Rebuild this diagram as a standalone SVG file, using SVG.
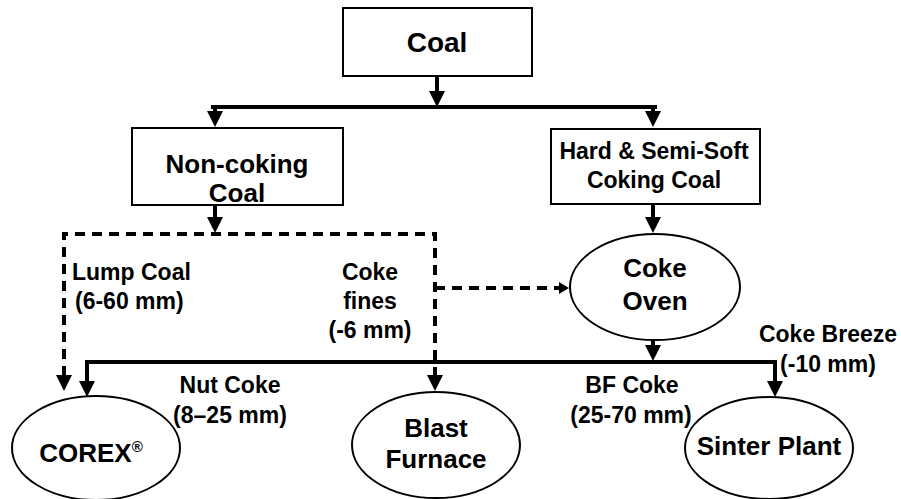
<svg xmlns="http://www.w3.org/2000/svg" width="901" height="499" viewBox="0 0 901 499">
<style>
.box{fill:#fff;stroke:#000;stroke-width:2}
.t{font-family:"Liberation Sans",Arial,sans-serif;font-weight:bold;fill:#000;text-anchor:middle}
.big{font-size:26px}
.lbl{font-size:23px}
.c{fill:none;stroke:#000;stroke-width:4}
.d{fill:none;stroke:#000;stroke-width:4;stroke-dasharray:10,7}
</style>
<defs>
<marker id="ah" viewBox="0 0 16 16" refX="1" refY="8" markerWidth="16" markerHeight="16" markerUnits="userSpaceOnUse" orient="auto-start-reverse">
<path d="M0,0 L16,8 L0,16 Z" fill="#000"/>
</marker>
<marker id="ahs" viewBox="0 0 10 12" refX="1" refY="6" markerWidth="10" markerHeight="12" markerUnits="userSpaceOnUse" orient="auto">
<path d="M0,0 L10,6 L0,12 Z" fill="#000"/>
</marker>
</defs>
<rect width="901" height="499" fill="#fff"/>
<g id="connectors">
<path class="c" d="M437,76 V92" marker-end="url(#ah)"/>
<path class="c" d="M213,107 H655" stroke-linecap="square"/>
<path class="c" d="M215,107 V112" marker-end="url(#ah)"/>
<path class="c" d="M653,107 V112" marker-end="url(#ah)"/>
<path class="c" d="M215,205 V218" marker-end="url(#ah)"/>
<path class="d" d="M64,376 V234 H435 V376" marker-start="url(#ah)" marker-end="url(#ah)"/>
<path class="d" d="M435,288 H560" marker-end="url(#ahs)"/>
<path class="c" d="M653,204 V218" marker-end="url(#ah)"/>
<path class="c" d="M653,340 V346" marker-end="url(#ah)"/>
<path class="c" d="M87,382 V362 H775 V382" marker-start="url(#ah)" marker-end="url(#ah)"/>
</g>
<g id="coal">
<rect class="box" x="343" y="8" width="189" height="68"/>
<text class="t" x="437" y="52" font-size="28">Coal</text>
</g>
<g id="noncoking">
<rect class="box" x="132" y="128" width="211" height="77"/>
<text class="t big" x="237" y="173">Non-coking</text>
<text class="t big" x="237" y="202">Coal</text>
</g>
<g id="coking">
<rect class="box" x="551" y="129" width="209" height="75"/>
<text class="t lbl" x="654" y="159">Hard &amp; Semi-Soft</text>
<text class="t lbl" x="654" y="188">Coking Coal</text>
</g>
<g id="cokeoven">
<ellipse class="box" cx="655" cy="287" rx="85" ry="53"/>
<text class="t big" x="655" y="277">Coke</text>
<text class="t big" x="655" y="310">Oven</text>
</g>
<g id="corex">
<ellipse class="box" cx="96" cy="448" rx="84" ry="52"/>
<text class="t big" x="91" y="462">COREX<tspan font-size="15" dy="-10">®</tspan></text>
</g>
<g id="blastfurnace">
<ellipse class="box" cx="436" cy="445" rx="84" ry="53"/>
<text class="t big" x="436" y="437">Blast</text>
<text class="t big" x="436" y="468">Furnace</text>
</g>
<g id="sinter">
<ellipse class="box" cx="769" cy="448" rx="84" ry="51"/>
<text class="t big" x="769" y="455">Sinter Plant</text>
</g>
<g id="labels">
<text class="t lbl" x="72" y="280" text-anchor="start" style="text-anchor:start">Lump Coal</text>
<text class="t lbl" x="75" y="309" style="text-anchor:start">(6-60 mm)</text>
<text class="t lbl" x="370" y="280">Coke</text>
<text class="t lbl" x="370" y="309">fines</text>
<text class="t lbl" x="370" y="338">(-6 mm)</text>
<text class="t lbl" x="230" y="393">Nut Coke</text>
<text class="t lbl" x="230" y="423">(8–25 mm)</text>
<text class="t lbl" x="632" y="393">BF Coke</text>
<text class="t lbl" x="631" y="423">(25-70 mm)</text>
<text class="t lbl" x="828" y="342">Coke Breeze</text>
<text class="t lbl" x="828" y="372">(-10 mm)</text>
</g>
</svg>
